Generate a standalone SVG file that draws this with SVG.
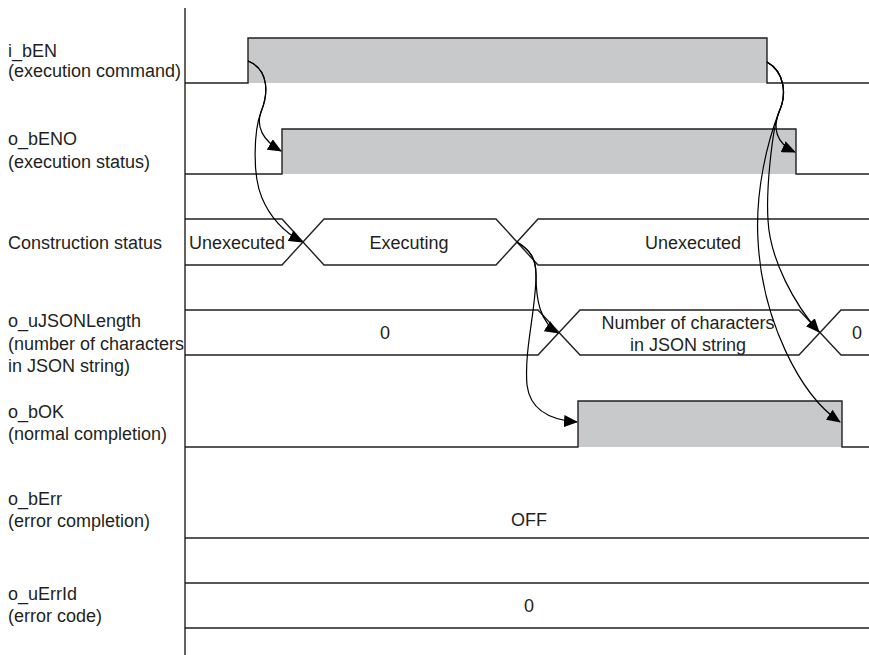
<svg xmlns="http://www.w3.org/2000/svg" width="869" height="655" viewBox="0 0 869 655">
<style>
text{font-family:"Liberation Sans",Arial,sans-serif;font-size:18px;fill:#231f20}
.c{text-anchor:middle}
.sig{fill:none;stroke:#231f20;stroke-width:1.4}
.on{fill:#c8c9cb;stroke:none}
.con{fill:none;stroke:#000;stroke-width:1.2}
</style>
<defs>
<marker id="ah" markerUnits="userSpaceOnUse" viewBox="0 0 14 12" refX="13" refY="6" markerWidth="14" markerHeight="12" orient="auto">
<path d="M0,0 L14,6 L0,12 z" fill="#000"/>
</marker>
</defs>
<rect width="869" height="655" fill="#fff"/>
<g id="axis"><line x1="185" y1="8" x2="185" y2="655" class="sig"/></g>

<g id="i_bEN">
<text x="8" y="57">i_bEN</text>
<text x="8" y="77">(execution command)</text>
<rect class="on" x="248" y="38" width="519" height="45"/>
<path class="sig" d="M185,83 H248 V38 H767 V83 H869"/>
</g>

<g id="o_bENO">
<text x="8" y="145">o_bENO</text>
<text x="8" y="168">(execution status)</text>
<rect class="on" x="282" y="129" width="514" height="45"/>
<path class="sig" d="M185,174 H282 V129 H796 V174 H869"/>
</g>

<g id="construction">
<text x="8" y="249">Construction status</text>
<path class="sig" d="M185,219 H282 L324,265 H496 L538,219 H869"/>
<path class="sig" d="M185,265 H282 L324,219 H496 L538,265 H869"/>
<text class="c" x="237" y="249">Unexecuted</text>
<text class="c" x="409" y="249">Executing</text>
<text class="c" x="693" y="249">Unexecuted</text>
</g>

<g id="o_uJSONLength">
<text x="8" y="327">o_uJSONLength</text>
<text x="8" y="350">(number of characters</text>
<text x="8" y="372">in JSON string)</text>
<path class="sig" d="M185,310 H538 L580,355 H799 L841,310 H869"/>
<path class="sig" d="M185,355 H538 L580,310 H799 L841,355 H869"/>
<text class="c" x="385" y="339">0</text>
<text class="c" x="688" y="329">Number of characters</text>
<text class="c" x="688" y="351">in JSON string</text>
<text class="c" x="857" y="339">0</text>
</g>

<g id="o_bOK">
<text x="8" y="418">o_bOK</text>
<text x="8" y="440">(normal completion)</text>
<rect class="on" x="578" y="401" width="264" height="46"/>
<path class="sig" d="M185,447 H578 V401 H842 V447 H869"/>
</g>

<g id="o_bErr">
<text x="8" y="505">o_bErr</text>
<text x="8" y="527">(error completion)</text>
<path class="sig" d="M185,538 H869"/>
<text class="c" x="529" y="526">OFF</text>
</g>

<g id="o_uErrId">
<text x="8" y="600">o_uErrId</text>
<text x="8" y="622">(error code)</text>
<path class="sig" d="M185,583 H869 M185,628 H869"/>
<text class="c" x="529" y="612">0</text>
</g>

<g id="connectors">
<path class="con" marker-end="url(#ah)" d="M248,61 C270,70 268,95 261,112 C256,126 262,140 281,151"/>
<path class="con" marker-end="url(#ah)" d="M248,61 C270,70 268,95 261,112 C254,130 252,175 262,198 C270,217 284,232 302,242"/>
<path class="con" marker-end="url(#ah)" d="M767,62 C785,72 787,95 779,112 C773,127 775,143 795,152"/>
<path class="con" marker-end="url(#ah)" d="M767,62 C785,72 787,95 779,112 C772,130 766,190 768,220 C770,260 795,305 819,332"/>
<path class="con" marker-end="url(#ah)" d="M767,62 C785,72 787,95 779,112 C768,140 755,190 758,240 C762,320 800,395 840,422"/>
<path class="con" marker-end="url(#ah)" d="M517,242 C530,250 536,258 536,275 C536,300 540,322 558,333"/>
<path class="con" marker-end="url(#ah)" d="M517,242 C530,250 536,258 536,275 C536,310 524,350 527,385 C530,410 550,420 577,422"/>
</g>
</svg>
